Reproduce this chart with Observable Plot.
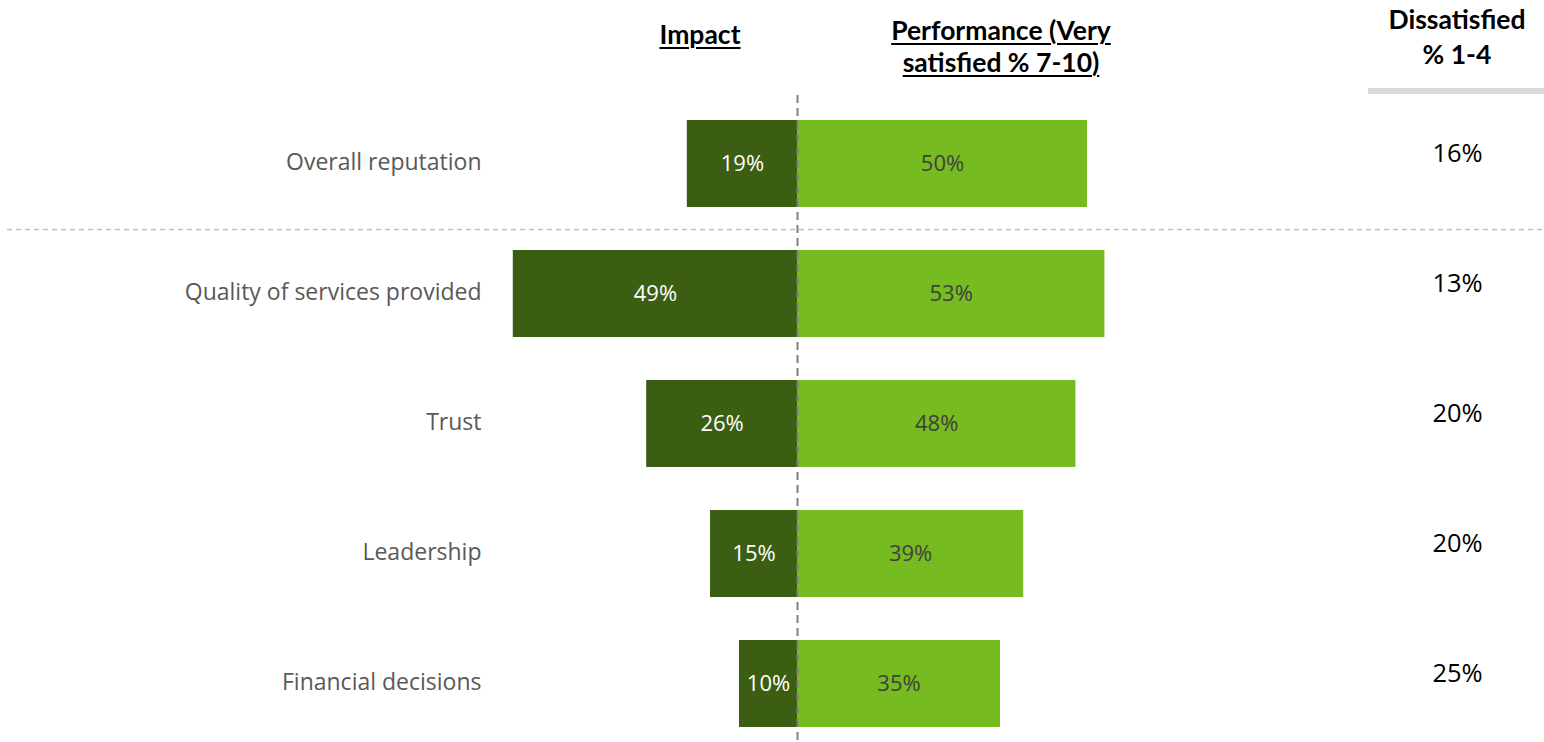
<!DOCTYPE html>
<html>
<head>
<meta charset="utf-8">
<script src="https://cdn.jsdelivr.net/npm/d3@7"></script>
<script src="https://cdn.jsdelivr.net/npm/@observablehq/plot@0.6"></script>
<style>
  html, body { margin: 0; padding: 0; background: #fff; }
  #wrap { position: relative; width: 1544px; height: 742px; overflow: hidden; }
  .hdr { position: absolute; transform: translateX(-50%); font-family: Lato, "Open Sans", sans-serif; font-weight: bold; color: #000; text-align: center; white-space: nowrap; font-size: 26.5px; line-height: 32px; }
  .hdr.u { text-decoration: underline; text-decoration-thickness: 2px; text-underline-offset: 3px; }
  #sep { position: absolute; left: 1368px; top: 88px; width: 176px; height: 6px; background: #d9d9d9; }
  #chart { position: absolute; left: 0; top: 0; }
</style>
</head>
<body>
<div id="wrap">
  <div id="chart"></div>
  <div class="hdr u" style="left:700px; top:18px;">Impact</div>
  <div class="hdr u" style="left:1001px; top:14px;">Performance (Very<br>satisfied % 7-10)</div>
  <div class="hdr" style="left:1457px; top:2px; line-height:35px;">Dissatisfied<br>% 1-4</div>
  <div id="sep"></div>
</div>
<script>
const categories = ["Overall reputation", "Quality of services provided", "Trust", "Leadership", "Financial decisions"];
const impact = [19, 49, 26, 15, 10];
const performance = [50, 53, 48, 39, 35];
const dissatisfied = [16, 13, 20, 20, 25];

const rows = categories.map((c, i) => ({
  category: c,
  impact: impact[i],
  performance: performance[i],
  dissatisfied: dissatisfied[i]
}));

const darkGreen = "#3b5e12";
const lightGreen = "#76bb1f";

const chart = Plot.plot({
  width: 1544,
  height: 742,
  marginTop: 119,
  marginBottom: 14.5,
  marginLeft: 490,
  marginRight: 0,
  style: { fontFamily: "'Open Sans', sans-serif", background: "transparent" },
  x: { domain: [-52.93, 128.79], axis: null },
  y: { domain: categories, paddingInner: 0.333, paddingOuter: 0, label: null },
  marks: [
    Plot.axisY({ tickSize: 0, tickPadding: 9, fontSize: 23, fill: "#595959", label: null, dy: -1 }),
    Plot.barX(rows, { y: "category", x1: d => -d.impact, x2: 0, fill: darkGreen }),
    Plot.barX(rows, { y: "category", x1: 0, x2: "performance", fill: lightGreen }),
    Plot.ruleY(rows.slice(0, 1), { y: "category", dy: 65.5, insetLeft: -483, stroke: "#bfbfbf", strokeWidth: 1.5, strokeDasharray: "5,4" }),
    Plot.ruleX([0], { stroke: "#7f7f7f", strokeWidth: 2, strokeDasharray: "8,5", insetTop: -24, insetBottom: -14.5 }),
    Plot.text(rows, { y: "category", x: d => -d.impact / 2, text: d => d.impact + "%", fill: "#ffffff", fontSize: 22 }),
    Plot.text(rows, { y: "category", x: d => d.performance / 2, text: d => d.performance + "%", fill: "#404040", fontSize: 22 }),
    Plot.text(rows, { y: "category", frameAnchor: "right", dx: -87, textAnchor: "middle", dy: -10, text: d => d.dissatisfied + "%", fill: "#000000", fontSize: 25.5 })
  ]
});
document.getElementById("chart").appendChild(chart);
</script>
</body>
</html>
